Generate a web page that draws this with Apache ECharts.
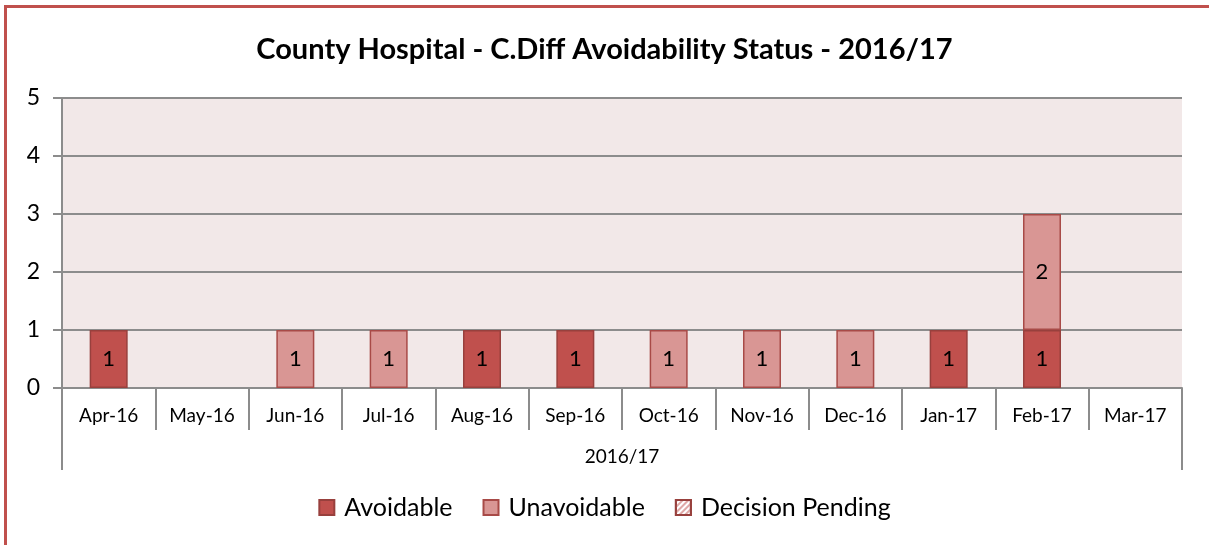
<!DOCTYPE html>
<html>
<head>
<meta charset="utf-8">
<script src="https://cdn.jsdelivr.net/npm/echarts@6/dist/echarts.min.js"></script>
<style>
  html, body { margin: 0; padding: 0; background: #fff; overflow: hidden; }
  #chart { width: 1209px; height: 545px; }
</style>
</head>
<body>
<div id="chart"></div>
<script>
  const months = ['Apr-16', 'May-16', 'Jun-16', 'Jul-16', 'Aug-16', 'Sep-16',
    'Oct-16', 'Nov-16', 'Dec-16', 'Jan-17', 'Feb-17', 'Mar-17'];
  const yearGroup = ['2016/17'];
  const avoidable = [1, 0, 0, 0, 1, 1, 0, 0, 0, 1, 1, 0];
  const unavoidable = [0, 0, 1, 1, 0, 0, 1, 1, 1, 0, 2, 0];
  const pending = [0, 0, 0, 0, 0, 0, 0, 0, 0, 0, 0, 0];

  const font = 'Lato, "Open Sans", sans-serif';
  const chart = echarts.init(document.getElementById('chart'), null, { renderer: 'canvas' });

  // zero counts draw no bar at all, like the original
  function hideZero(arr) { return arr.map(function (v) { return v === 0 ? '-' : v; }); }

  function barLabel() {
    return {
      show: true,
      position: 'inside',
      color: '#000',
      fontSize: 22,
      fontFamily: font,
      formatter: function (p) { return p.value ? String(p.value) : ''; },
    };
  }

  chart.setOption({
    animation: false,
    title: {
      text: 'County Hospital - C.Diff Avoidability Status - 2016/17',
      left: 'center',
      top: 30,
      textStyle: { fontSize: 29, fontWeight: 'bold', color: '#000', fontFamily: font },
    },
    graphic: [{
      type: 'rect',
      shape: { x: 5.5, y: 6.5, width: 1400, height: 800 },
      style: { fill: null, stroke: '#C0504D', lineWidth: 3 },
      silent: true,
      z: 100,
    }],
    legend: {
      bottom: 20,
      left: 'center',
      icon: 'rect',
      itemWidth: 15,
      itemHeight: 15,
      itemGap: 30,
      textStyle: { fontSize: 25, fontFamily: font, color: '#000', padding: [0, 0, 0, 5] },
      data: ['Avoidable', 'Unavoidable', 'Decision Pending'],
    },
    grid: { left: 62, right: 27, top: 98, bottom: 157, containLabel: false,
      show: true, backgroundColor: '#F2E8E8', borderWidth: 0 },
    xAxis: [{
      type: 'category',
      data: months,
      axisLine: { show: true, lineStyle: { color: '#8c8c8c', width: 2 } },
      axisTick: { show: true, interval: 0, length: 42, lineStyle: { color: '#8c8c8c', width: 2 } },
      axisLabel: { interval: 0, fontSize: 19, fontFamily: font, color: '#000', margin: 18 },
    }, {
      type: 'category',
      data: yearGroup,
      position: 'bottom',
      axisLine: { show: false },
      axisTick: { show: true, length: 82, lineStyle: { color: '#8c8c8c', width: 2 } },
      axisLabel: { fontSize: 19, fontFamily: font, color: '#000', margin: 59 },
    }],
    yAxis: {
      type: 'value',
      min: 0,
      max: 5,
      interval: 1,
      axisLine: { show: true, lineStyle: { color: '#8c8c8c', width: 2 } },
      axisTick: { show: true, length: 9, lineStyle: { color: '#8c8c8c', width: 2 } },
      axisLabel: { fontSize: 23, fontFamily: font, color: '#000', margin: 22 },
      splitLine: { show: true, lineStyle: { color: '#8c8c8c', width: 2 } },
    },
    series: [{
      name: 'Avoidable',
      type: 'bar',
      stack: 'total',
      barWidth: 38,
      data: hideZero(avoidable),
      itemStyle: { color: '#C0504D', borderColor: '#98403D', borderWidth: 1.5 },
      label: barLabel(),
    }, {
      name: 'Unavoidable',
      type: 'bar',
      stack: 'total',
      barWidth: 38,
      data: hideZero(unavoidable),
      itemStyle: { color: '#D99694', borderColor: '#A84A47', borderWidth: 1.5 },
      label: barLabel(),
    }, {
      name: 'Decision Pending',
      type: 'bar',
      stack: 'total',
      barWidth: 38,
      data: hideZero(pending),
      itemStyle: {
        color: '#ffffff', borderColor: '#98403D', borderWidth: 1.5,
        decal: { symbol: 'rect', dashArrayX: [1, 0], dashArrayY: [2, 2], rotation: -Math.PI / 4, color: '#E0A9A8' },
      },
      label: barLabel(),
    }],
  });
</script>
</body>
</html>
